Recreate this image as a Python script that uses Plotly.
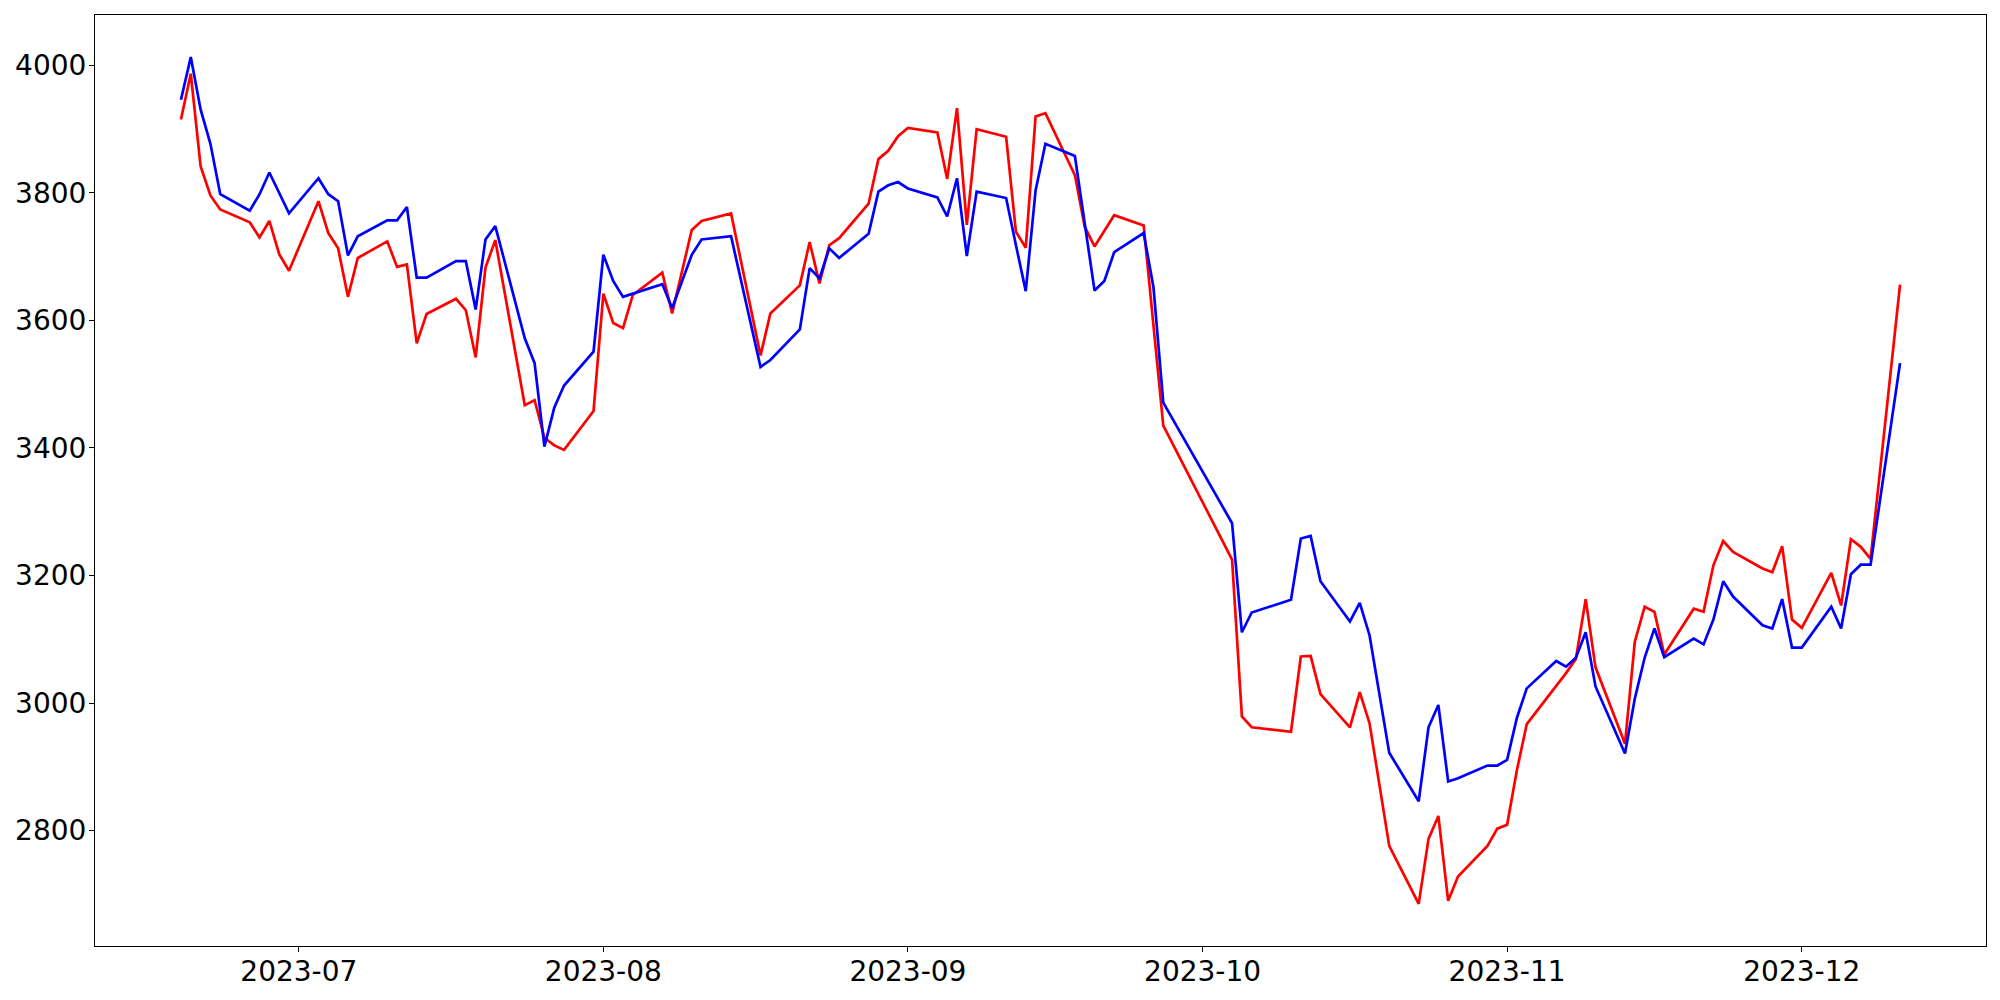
import plotly.graph_objects as go

# trading days (Korean market calendar, holidays skipped)
dates = [
    "2023-06-19", "2023-06-20", "2023-06-21", "2023-06-22", "2023-06-23",
    "2023-06-26", "2023-06-27", "2023-06-28", "2023-06-29", "2023-06-30",
    "2023-07-03", "2023-07-04", "2023-07-05", "2023-07-06", "2023-07-07",
    "2023-07-10", "2023-07-11", "2023-07-12", "2023-07-13", "2023-07-14",
    "2023-07-17", "2023-07-18", "2023-07-19", "2023-07-20", "2023-07-21",
    "2023-07-24", "2023-07-25", "2023-07-26", "2023-07-27", "2023-07-28",
    "2023-07-31", "2023-08-01", "2023-08-02", "2023-08-03", "2023-08-04",
    "2023-08-07", "2023-08-08", "2023-08-10", "2023-08-11",
    "2023-08-14", "2023-08-17", "2023-08-18",
    "2023-08-21", "2023-08-22", "2023-08-23", "2023-08-24", "2023-08-25",
    "2023-08-28", "2023-08-29", "2023-08-30", "2023-08-31", "2023-09-01",
    "2023-09-04", "2023-09-05", "2023-09-06", "2023-09-07", "2023-09-08",
    "2023-09-11", "2023-09-12", "2023-09-13", "2023-09-14", "2023-09-15",
    "2023-09-18", "2023-09-19", "2023-09-20", "2023-09-21", "2023-09-22",
    "2023-09-25", "2023-09-26", "2023-09-27",
    "2023-10-04", "2023-10-05", "2023-10-06",
    "2023-10-10", "2023-10-11", "2023-10-12", "2023-10-13",
    "2023-10-16", "2023-10-17", "2023-10-18", "2023-10-20",
    "2023-10-23", "2023-10-24", "2023-10-25", "2023-10-26", "2023-10-27",
    "2023-10-30", "2023-10-31", "2023-11-01", "2023-11-02", "2023-11-03",
    "2023-11-06", "2023-11-07", "2023-11-08", "2023-11-09", "2023-11-10",
    "2023-11-13", "2023-11-14", "2023-11-15", "2023-11-16", "2023-11-17",
    "2023-11-20", "2023-11-21", "2023-11-22", "2023-11-23", "2023-11-24",
    "2023-11-27", "2023-11-28", "2023-11-29", "2023-11-30", "2023-12-01",
    "2023-12-04", "2023-12-05", "2023-12-06", "2023-12-07", "2023-12-08",
    "2023-12-11",
]

red = [
    3915, 3987, 3842, 3796, 3774,
    3754, 3730, 3756, 3704, 3678,
    3787, 3737, 3713, 3637, 3698,
    3724, 3684, 3688, 3564, 3610,
    3634, 3616, 3542, 3683, 3726,
    3467, 3475, 3416, 3404, 3397,
    3458, 3642, 3596, 3588, 3640,
    3675, 3611, 3742, 3756,
    3768, 3545, 3611,
    3655, 3723, 3658, 3718, 3729,
    3783, 3853, 3866, 3889, 3902,
    3895, 3822, 3933, 3750, 3900,
    3888, 3739, 3714, 3920, 3925,
    3828, 3747, 3716, None, 3765,
    3749, None, 3435,
    3225, 2979, 2962,
    2955, 3073, 3074, 3014,
    2962, 3017, 2968, 2776,
    2685, 2787, 2823, 2690, 2728,
    2776, 2803, 2809, 2895, 2967,
    None, 3047, 3069, 3163, 3056,
    2936, 3096, 3151, 3143, 3076,
    3148, 3143, 3216, 3254, 3237,
    3211, 3205, 3246, 3131, 3118,
    3204, 3153, 3257, 3245, 3226,
    3656,
]

blue = [
    3946, 4013, 3931, 3877, 3798,
    3772, 3798, 3832, None, 3768,
    3823, 3798, 3787, 3702, 3732,
    3757, 3757, 3778, 3667, 3667,
    3693, 3693, 3617, 3727, 3748,
    3572, 3533, 3402, 3463, 3498,
    3551, 3703, 3662, 3637, 3642,
    3657, 3619, 3703, 3727,
    3732, 3527, 3538,
    3586, 3682, 3666, 3713, 3698,
    3736, 3802, 3812, 3817, 3807,
    3793, 3763, 3823, 3701, 3802,
    3792, 3718, 3646, 3804, 3877,
    3858, None, 3647, 3662, 3707,
    3737, 3652, 3471,
    3282, 3111, 3142,
    3162, 3258, 3262, 3191,
    3128, 3157, 3106, 2922,
    2846, 2962, 2997, 2877, 2882,
    2902, 2902, 2911, 2977, 3023,
    3066, 3057, 3071, 3111, 3026,
    2921, 3007, 3071, 3117, 3072,
    3101, 3092, 3131, 3191, 3167,
    3122, 3117, 3163, 3087, 3087,
    3151, 3117, 3202, 3217, 3217,
    3533,
]

fig = go.Figure()

fig.add_trace(go.Scatter(
    x=dates, y=red, mode="lines", connectgaps=True,
    line=dict(color="#ff0000", width=2.7),
    name="red",
))
fig.add_trace(go.Scatter(
    x=dates, y=blue, mode="lines", connectgaps=True,
    line=dict(color="#0000ff", width=2.7),
    name="blue",
))

axis_style = dict(
    showgrid=False,
    zeroline=False,
    showline=True,
    linecolor="black",
    linewidth=1.1,
    mirror=True,
    ticks="outside",
    ticklen=5,
    tickwidth=1.1,
    tickcolor="black",
    automargin=False,
    tickfont=dict(family="DejaVu Sans", size=28, color="black"),
)

fig.update_xaxes(
    **axis_style,
    type="date",
    range=["2023-06-10 06:00", "2023-12-19 18:00"],
    tickvals=["2023-07-01", "2023-08-01", "2023-09-01", "2023-10-01", "2023-11-01", "2023-12-01"],
    tickformat="%Y-%m",
    ticklabelstandoff=-5,
)
fig.update_yaxes(
    **axis_style,
    range=[2619, 4079],
    tick0=2800,
    dtick=200,
    ticklabelstandoff=-3,
)

# page body adds an 8px offset, so the figure is 1992x992
fig.update_layout(
    width=1992,
    height=992,
    margin=dict(l=87, r=14, t=7, b=54),
    plot_bgcolor="white",
    paper_bgcolor="white",
    showlegend=False,
)

fig.write_html("out.html")
